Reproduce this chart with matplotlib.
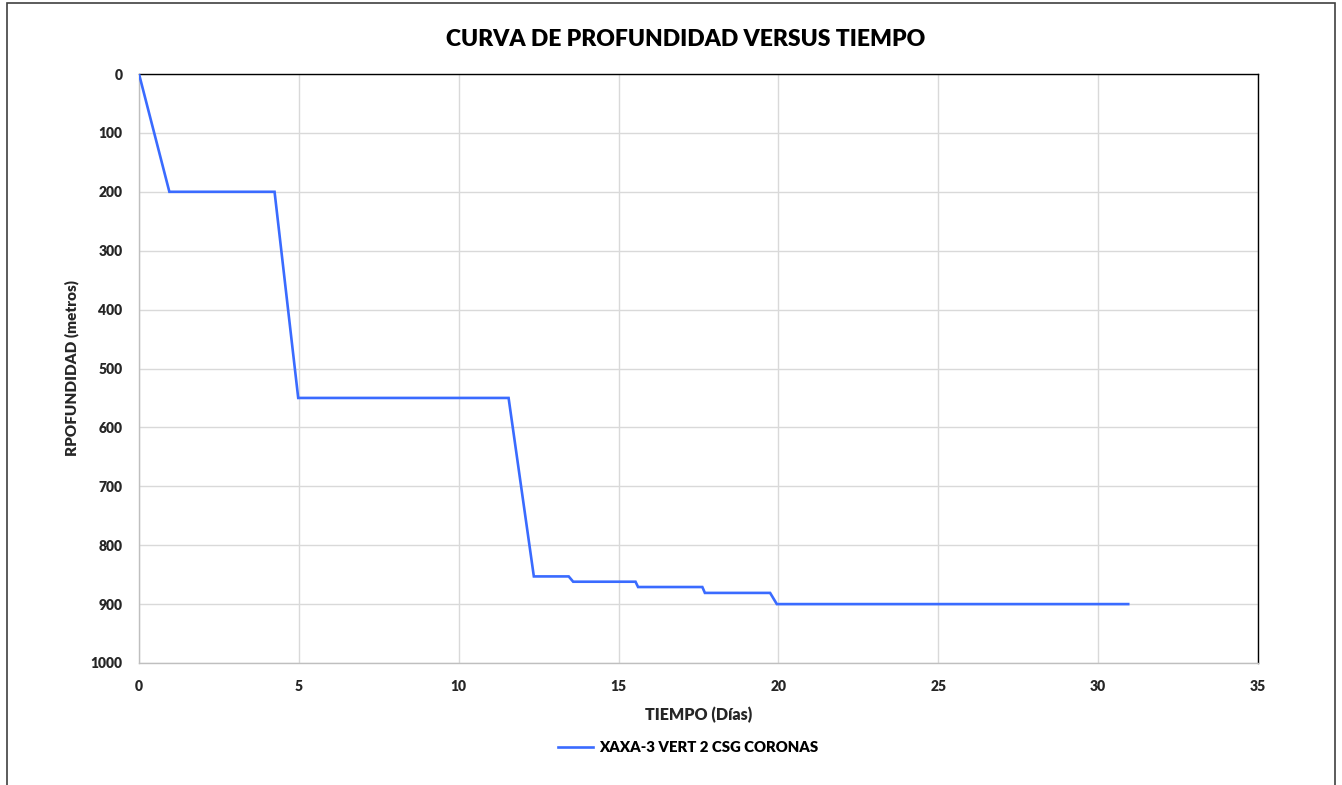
import numpy as np
import matplotlib
matplotlib.use("Agg")
import matplotlib.pyplot as plt
from matplotlib.ticker import MultipleLocator
from matplotlib.patches import Rectangle

plt.rcParams["font.family"] = ["Lato", "DejaVu Sans"]
plt.rcParams["font.weight"] = "bold"

# data
tiempo = [0, 0.95, 4.24, 4.98, 11.56, 12.35, 13.44, 13.58, 15.53, 15.61,
          17.62, 17.70, 19.74, 19.95, 30.94]
profundidad = [0, 200, 200, 550, 550, 853, 853, 862, 862, 871,
               871, 881, 881, 900, 900]

serie = "XAXA-3 VERT 2 CSG CORONAS"
titulo = "CURVA DE PROFUNDIDAD VERSUS TIEMPO"

W, H = 1342, 785
fig = plt.figure(figsize=(W / 100, H / 100), dpi=100)

# chart area border (excel chart object)
fig.patches.append(Rectangle((7 / W, -0.01), (1335 - 7) / W, 1 - 3 / H + 0.01,
                             transform=fig.transFigure, fill=False,
                             edgecolor="#404040", linewidth=1.2))

ax = fig.add_axes([139 / W, 1 - 663 / H, (1258 - 139) / W, (663 - 74) / H])

ax.plot(tiempo, profundidad, color="#3a6bff", linewidth=1.9,
        solid_joinstyle="miter", label=serie, zorder=5)

ax.set_xlim(0, 35)
ax.set_ylim(1000, 0)
ax.xaxis.set_major_locator(MultipleLocator(5))
ax.yaxis.set_major_locator(MultipleLocator(100))
ax.grid(True, color="#d9d9d9", linewidth=1.0)
ax.set_axisbelow(True)
ax.tick_params(length=0, labelsize=10, pad=12)
for lab in ax.get_xticklabels() + ax.get_yticklabels():
    lab.set_fontweight("heavy")
    lab.set_color("#262626")

for side in ["left", "bottom"]:
    ax.spines[side].set_color("#bfbfbf")
    ax.spines[side].set_linewidth(1.0)
for side in ["top", "right"]:
    ax.spines[side].set_color("black")
    ax.spines[side].set_linewidth(1.0)

ax.set_xlabel("TIEMPO (Días)", fontsize=11.5, fontweight="heavy", labelpad=10,
              color="#262626")
ax.set_ylabel("RPOFUNDIDAD (metros)", fontsize=11, fontweight="heavy",
              labelpad=8, color="#262626")

fig.text(686 / W, 1 - 40 / H, titulo, ha="center", va="center",
         fontsize=16.5, fontweight="heavy", color="black")

fig.legend(loc="center", bbox_to_anchor=(688 / W, 1 - 748 / H), frameon=False,
           prop={"size": 10.7, "weight": "heavy"}, handlelength=2.4,
           handletextpad=0.4)

plt.savefig("out.png", dpi=100)
